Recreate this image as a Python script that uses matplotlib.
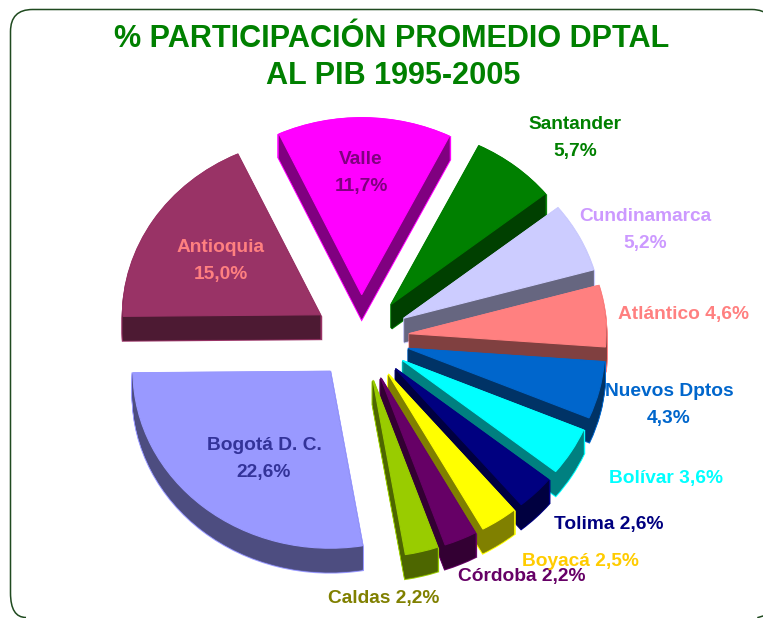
import matplotlib
matplotlib.use("Agg")
from matplotlib import pyplot as plt
from matplotlib.colors import to_rgb
from matplotlib.patches import PathPatch
from matplotlib.path import Path

plt.rcParams["font.family"] = ["Liberation Sans", "DejaVu Sans"]

# order as it runs round the pie, counterclockwise from the left
names = ["Bogotá D. C.", "Caldas", "Córdoba", "Boyacá", "Tolima", "Bolívar",
         "Nuevos Dptos", "Atlántico", "Cundinamarca", "Santander", "Valle", "Antioquia"]
values = [22.6, 2.2, 2.2, 2.5, 2.6, 3.6, 4.3, 4.6, 5.2, 5.7, 11.7, 15.0]
colors = ["#9999FF", "#99CC00", "#660066", "#FFFF00", "#000080", "#00FFFF",
          "#0066CC", "#FF8080", "#CCCCFF", "#008000", "#FF00FF", "#993366"]
label_colors = ["#333399", "#808000", "#660066", "#FFCC00", "#000080", "#00FFFF",
                "#0066CC", "#FF8080", "#CC99FF", "#008000", "#800080", "#FF8080"]
title_lines = ["% PARTICIPACIÓN PROMEDIO DPTAL", "AL PIB 1995-2005"]

# label centres in pixels, second item is the line break or a space
label_pos = [(264, 459, "\n"), (384, 598, " "), (522, 577, " "), (580, 561, " "),
             (609, 524, " "), (666, 478, " "), (669, 405, "\n"), (684, 315, " "),
             (645, 230, "\n"), (575, 138, "\n"), (361, 173, "\n"), (221, 261, "\n")]
# back to front, so nearer slices cover the sides of the ones behind
draw_order = [10, 11, 9, 8, 7, 6, 5, 4, 3, 2, 1, 0]

W, H = 763, 618
cx, cy = 361, 338      # pie centre, pixels
rx, ry = 197, 177      # tilted radius, pixels
depth = 24
explode = [0.245] * len(values)
start = 180.5

fig = plt.figure(figsize=(W / 100, H / 100), dpi=100, facecolor="white")
ax = fig.add_axes([0, 0, 1, 1])

for d in range(depth, 0, -1):
    wedges, _ = ax.pie(values, explode=explode, startangle=start, colors=colors,
                       center=(0, -d / ry), wedgeprops={"linewidth": 2.0, "edgecolor": "none"})
    for i, w in enumerate(wedges):
        w.set_edgecolor(colors[i])
        w.set_zorder(draw_order.index(i) * 3 + 1)
    wedges, _ = ax.pie(values, explode=explode, startangle=start,
                       colors=[tuple(c * 0.5 for c in to_rgb(col)) for col in colors],
                       center=(0, -d / ry), wedgeprops={"linewidth": 0.5})
    for i, w in enumerate(wedges):
        w.set_edgecolor(tuple(c * 0.5 for c in to_rgb(colors[i])))
        w.set_zorder(draw_order.index(i) * 3 + 2)

wedges, _ = ax.pie(values, explode=explode, startangle=start, colors=colors,
                   wedgeprops={"linewidth": 0.8})
for i, w in enumerate(wedges):
    w.set_edgecolor(colors[i])
    w.set_zorder(draw_order.index(i) * 3 + 3)

ax.set_aspect("auto")
ax.set_xlim(-cx / rx, (W - cx) / rx)
ax.set_ylim((cy - H) / ry, cy / ry)

# pixel axes on top for the frame and texts
ov = fig.add_axes([0, 0, 1, 1], zorder=5)
ov.set_xlim(0, W)
ov.set_ylim(H, 0)
ov.axis("off")
ov.patch.set_alpha(0)

# rounded frame: its bottom line and right side fall outside the picture
frame = Path([(26, 617.5), (10.5, 617.5), (10.5, 593), (10.5, 31.5), (10.5, 9.5), (32.5, 9.5),
              (752, 9.5), (763, 9.5), (770, 16)],
             [Path.MOVETO, Path.CURVE3, Path.CURVE3, Path.LINETO, Path.CURVE3, Path.CURVE3,
              Path.LINETO, Path.CURVE3, Path.CURVE3])
ov.add_patch(PathPatch(frame, facecolor="none", edgecolor="#1F4A1F", linewidth=1.1))
ov.plot([758, 763], [617.5, 616], color="#1F4A1F", lw=1.1)

ov.text(392, 47, title_lines[0], color="#008000", fontsize=22.1, fontweight="bold",
        ha="center", va="baseline")
ov.text(393, 84, title_lines[1], color="#008000", fontsize=22.1, fontweight="bold",
        ha="center", va="baseline")

for name, val, col, (x, y, sep) in zip(names, values, label_colors, label_pos):
    txt = name + sep + f"{val:.1f}".replace(".", ",") + "%"
    ov.text(x, y, txt, color=col, fontsize=13.8, fontweight="bold", ha="center", va="center",
            linespacing=1.72)

fig.savefig("out.png", dpi=100)
